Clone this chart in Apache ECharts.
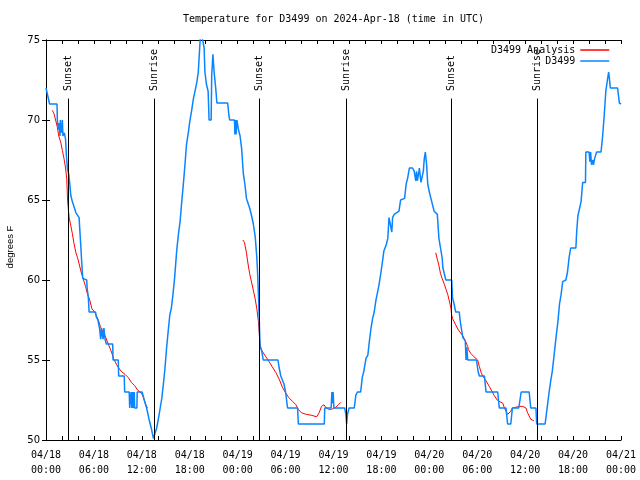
<!DOCTYPE html>
<html><head><meta charset="utf-8">
<script src="https://cdn.jsdelivr.net/npm/echarts@6/dist/echarts.min.js"></script>
<style>html,body{margin:0;padding:0;background:#fff}#c{width:640px;height:480px}</style>
</head><body><div id="c"></div>
<script>
// hours since 2024-04-18 00:00 UTC, degrees F
const observed = [
[0,72],[0.45,71],[1.38,71],[1.42,70],[1.55,69.4],[1.65,69.8],[1.75,69],[1.8,70],[1.88,69.2],[2.0,69.5],[2.05,70],[2.12,69],[2.3,69.2],[2.45,68.8],[2.55,67.8],[2.7,66.9],[2.85,66.6],[3.0,65.9],[3.1,65.3],[3.3,64.9],[3.75,64.2],[4.15,63.9],[4.2,63.4],[4.35,62.2],[4.45,61.3],[4.6,60.1],[5.1,60],[5.15,59.5],[5.3,58.9],[5.4,58],[6.2,58],[6.3,57.7],[6.5,57.5],[6.7,57],[6.85,56.3],[6.95,57],[7.05,56.6],[7.15,56.3],[7.25,57],[7.4,56.3],[7.55,56],[8.35,56],[8.4,55],[9.05,55],[9.1,54],[9.8,54],[9.85,53],[10.42,53],[10.48,52],[10.6,52],[10.65,53],[10.75,52],[10.85,53],[10.9,52],[11.05,53],[11.1,52],[11.38,52],[11.42,53],[12.04,53],[12.3,52.5],[12.6,52],[12.9,51.3],[13.2,50.7],[13.45,50.1],[13.65,50],
[13.86,50.75],[14.1,51.4],[14.3,52],[14.5,52.6],[14.7,53.5],[14.9,54.5],[15.1,55.75],[15.3,56.8],[15.5,57.8],[15.7,58.25],[15.9,59.1],[16.1,60.1],[16.36,61.8],[16.57,62.8],[16.8,63.7],[17.0,64.9],[17.2,66],[17.4,67.2],[17.6,68.5],[17.85,69.3],[18.0,69.9],[18.24,70.6],[18.45,71.3],[18.66,71.8],[18.9,72.4],[19.07,73],[19.3,75],[19.4,75.6],[19.65,75.6],[19.8,74.5],[19.9,73],[20.1,72.2],[20.3,71.8],[20.42,70],[20.68,70],[20.75,72.8],[20.9,74.1],[21.05,73],[21.25,72],[21.4,71.06],[22.75,71.06],[22.9,70.3],[23.0,70],[23.6,70],[23.65,69.1],[23.72,70],[23.8,69.1],[23.9,70],[24.1,69.4],[24.3,69],[24.5,68.2],[24.7,66.7],[24.9,66],[25.1,65.1],[25.3,65],[25.5,64.5],[25.75,64],[25.96,63.5],[26.2,62.7],[26.4,61.4],[26.5,60.4],[26.6,59.1],[26.7,57.6],[26.8,55.8],[27.0,55.6],[27.2,55],
[29.05,55],[29.2,54.5],[29.4,54],[29.6,54],[29.8,53.5],[30.0,53],[30.25,52],[31.5,52],[31.6,51],[34.85,51],[34.9,52],[35.7,52],[35.8,53],[35.9,52.3],[35.95,53],[36.05,52],[37.4,52],[37.55,51.6],[37.65,51],[37.75,51.6],[37.95,52],[38.6,52],[38.8,52.8],[39.0,53],[39.4,53],[39.6,53.9],[39.8,54.3],[40.07,55.1],[40.3,55.3],[40.5,56.2],[40.7,57],[40.9,57.6],[41.1,58],[41.3,58.7],[41.7,59.7],[41.95,60.5],[42.2,61.4],[42.3,61.8],[42.6,62.2],[42.8,62.6],[42.95,63.9],[43.2,63.9],[43.3,63.0],[43.4,63.9],[43.6,64.1],[44.2,64.3],[44.4,65],[44.9,65.1],[45.1,66],[45.3,66.4],[45.5,67],[45.9,67],[46.1,66.8],[46.3,66.2],[46.4,66.8],[46.5,66.2],[46.7,66.8],[46.75,67],[46.95,66.1],[47.16,66],[47.25,66.8],[47.37,67.6],[47.5,68],[47.58,67.6],[47.66,67.2],[47.8,66],[48.0,65.5],[48.2,65.1],[48.6,64.3],[49.0,64.1],[49.2,62.6],[49.4,62],[49.6,61.4],[49.7,60.75],[50.07,60],[50.8,60],[50.9,58.9],[51.1,58.5],[51.3,58],[51.75,58],[51.85,57.5],[52.0,57],[52.2,56.4],[52.5,56.2],[52.6,55],[52.7,55.8],[52.8,55],[53.9,55],[54.1,54.3],[54.26,54],[54.9,54],[55.1,53],[56.56,53],[56.76,52],[57.6,52],[57.8,51],[58.2,51],[58.4,52],[59.2,52],[59.5,53],[60.5,53],[60.7,52],[61.35,52],[61.44,51],[62.5,51],[62.7,51.8],[62.8,52.2],[63.0,53],[63.2,53.7],[63.4,54.3],[63.6,55.2],[63.86,56.4],[64.1,57.4],[64.3,58.5],[64.5,59.1],[64.7,59.9],[65.1,60],[65.3,60.5],[65.5,61.4],[65.7,62],[66.35,62],[66.45,63],[66.6,64],[67.0,64.9],[67.2,66.1],[67.55,66.1],[67.6,68],[68.0,68],[68.1,67.4],[68.2,68],[68.3,67.2],[68.45,67.5],[68.55,67.2],[68.7,67.6],[68.95,68],[69.5,68],[69.7,69],[69.9,70.3],[70.1,71.8],[70.3,72.5],[70.45,73],[70.55,72.6],[70.66,72],[71.57,72],[71.8,71.06],[72,71]
];
const analysisNight1 = [[0.8,70.6],[1.0,70.4],[1.2,70.0],[1.4,69.6],[1.6,69.0],[1.85,68.6],[2.05,68.1],[2.25,67.6],[2.45,67.0],[2.6,66.3],[2.7,65.0],[2.8,64.4],[2.9,63.9],[3.1,63.4],[3.3,62.9],[3.5,62.3],[3.75,61.7],[3.95,61.4],[4.15,61.0],[4.4,60.5],[4.7,60.0],[4.95,59.6],[5.15,59.2],[5.5,58.7],[5.75,58.2],[6.1,58.0],[6.3,57.9],[6.55,57.5],[6.8,57.1],[7.0,56.9],[7.4,56.5],[7.8,56.0],[8.2,55.5],[8.45,55.1],[8.85,54.7],[9.1,54.5],[9.4,54.3],[9.9,54.1],[10.3,53.9],[10.7,53.6],[11.1,53.4],[11.5,53.1],[11.8,53.0],[12.1,52.8],[12.3,52.5],[12.5,52.2],[12.7,52.0]];
const analysisNight2 = [[24.65,62.5],[24.85,62.35],[25.1,61.7],[25.3,61.0],[25.5,60.4],[25.9,59.5],[26.2,58.8],[26.4,58.2],[26.6,57.4],[26.7,56.7],[26.8,56.0],[27.0,55.6],[27.4,55.3],[27.8,55.0],[28.3,54.6],[28.8,54.2],[29.2,53.8],[29.6,53.3],[30.0,52.95],[30.4,52.65],[30.9,52.4],[31.3,52.2],[31.6,51.9],[32.0,51.7],[32.6,51.6],[33.2,51.55],[33.9,51.45],[34.2,51.7],[34.5,52.1],[34.8,52.2],[35.1,52.0],[35.5,51.9],[35.9,51.95],[36.3,52.05],[36.6,52.2],[36.9,52.35]];
const analysisNight3 = [[48.8,61.7],[49.0,61.3],[49.2,60.9],[49.4,60.4],[49.6,60.1],[49.9,59.7],[50.1,59.4],[50.3,59.1],[50.5,58.7],[50.7,58.25],[50.8,57.8],[50.9,57.6],[51.1,57.4],[51.3,57.2],[51.5,57.0],[51.75,56.8],[51.9,56.7],[52.2,56.5],[52.4,56.3],[52.6,56.1],[52.8,55.85],[52.9,55.65],[53.2,55.4],[53.4,55.3],[53.6,55.2],[53.84,55.15],[54.05,55.0],[54.26,54.6],[54.5,54.2],[54.7,54.0],[54.9,53.9],[55.1,53.7],[55.5,53.35],[55.9,53.0],[56.1,52.8],[56.3,52.7],[56.5,52.5],[56.8,52.4],[57.0,52.3],[57.2,52.3],[57.4,52.0],[57.6,51.8],[57.8,51.6],[58.0,51.7],[58.2,51.8],[58.4,52.0],[58.85,52.05],[59.3,52.1],[59.7,52.1],[59.9,52.1],[60.1,52.0],[60.3,51.7],[60.5,51.5],[60.7,51.3],[61.1,51.2]];
const eventHours = [2.80, 13.58, 26.71, 37.58, 50.77, 61.52];
const eventNames = ['Sunset','Sunrise','Sunset','Sunrise','Sunset','Sunrise'];
const startUTC = Date.UTC(2024, 3, 18);

const mono = 'DejaVu Sans Mono';
const pad = n => String(n).padStart(2, '0');
function xLabel(h) {
  if (h % 6 !== 0) return '';
  const d = new Date(startUTC + h * 3600000);
  return pad(d.getUTCMonth() + 1) + '/' + pad(d.getUTCDate()) + '\n' + pad(d.getUTCHours()) + ':' + pad(d.getUTCMinutes());
}
const axisLine = {show: true, lineStyle: {color: '#000', width: 1}};
const tick = {show: true, inside: true, length: 4, lineStyle: {color: '#000', width: 1}};
const LINE_TOP = 71.34, LABEL_BASE = 71.81;

const chart = echarts.init(document.getElementById('c'), null, {renderer: 'canvas'});
const redStyle = {color: '#ff0000', width: 1};
const redSeries = [analysisNight1, analysisNight2, analysisNight3].map(d => ({
  name: 'D3499 Analysis', type: 'line', data: d, symbol: 'none', showSymbol: false,
  lineStyle: redStyle, itemStyle: {color: '#ff0000'}, z: 2
}));
chart.setOption({
  animation: false,
  backgroundColor: '#fff',
  title: {text: 'Temperature for D3499 on 2024-Apr-18 (time in UTC)', left: 183, top: 14, padding: 0,
    textStyle: {fontFamily: mono, fontSize: 10, fontWeight: 'normal', color: '#000'}},
  legend: {data: ['D3499 Analysis', 'D3499'], orient: 'vertical', right: 30, top: 45, align: 'right',
    itemWidth: 29, itemHeight: 12, itemGap: 1, padding: 0,
    itemStyle: {opacity: 0},
    lineStyle: {width: 1.5},
    textStyle: {fontFamily: mono, fontSize: 10, color: '#000'}},
  grid: {left: 46, right: 19, top: 40, bottom: 40, show: false, containLabel: false, outerBoundsMode: 'none'},
  xAxis: [
    {type: 'value', min: 0, max: 72, interval: 2, axisLine, axisTick: tick, splitLine: {show: false},
     axisLabel: {formatter: xLabel, fontFamily: mono, fontSize: 10, color: '#000', lineHeight: 15, margin: 8}},
    {type: 'value', position: 'top', min: 0, max: 72, interval: 2, axisLine, axisTick: tick,
     axisLabel: {show: false}, splitLine: {show: false}}
  ],
  yAxis: [
    {type: 'value', min: 50, max: 75, interval: 5, axisLine, axisTick: tick, splitLine: {show: false},
     name: 'degrees F', nameLocation: 'middle', nameGap: 31, nameRotate: 90,
     nameTextStyle: {fontFamily: 'Liberation Sans', fontSize: 9.5, color: '#000', padding: [0, 14, 0, 0]},
     axisLabel: {fontFamily: 'DejaVu Sans', fontSize: 10, color: '#000', margin: 6}},
    {type: 'value', position: 'right', min: 50, max: 75, interval: 5, axisLine, axisTick: tick,
     axisLabel: {show: false}, splitLine: {show: false}}
  ],
  series: redSeries.concat([
    {name: 'D3499', type: 'line', data: observed, symbol: 'none', showSymbol: false,
     lineStyle: {color: '#0a84ff', width: 1.5}, itemStyle: {color: '#0a84ff'}, z: 3},
    {name: 'events', type: 'scatter', symbolSize: 0, z: 4, silent: true,
     itemStyle: {opacity: 1, color: '#000'},
     data: eventHours.map((h, i) => [h, LABEL_BASE, eventNames[i]]),
     label: {show: true, formatter: p => p.data[2], position: 'inside', rotate: 90, align: 'left', verticalAlign: 'middle',
       fontFamily: mono, fontSize: 10, color: '#000', opacity: 1},
     markLine: {silent: true, symbol: 'none', label: {show: false}, animation: false,
       lineStyle: {color: '#000', width: 1, type: 'solid', opacity: 1},
       data: eventHours.map(h => [{coord: [h, 50]}, {coord: [h, LINE_TOP]}])}}
  ])
});
</script></body></html>
